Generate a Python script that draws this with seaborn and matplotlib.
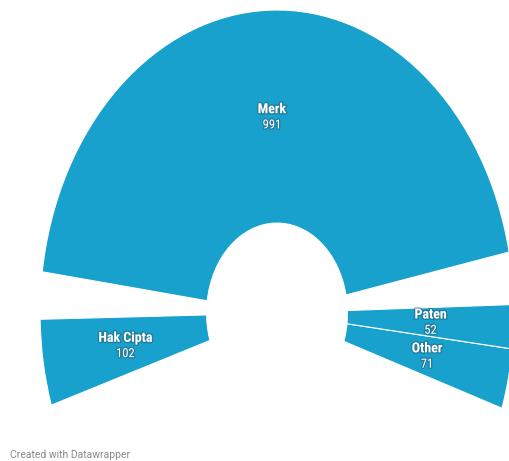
import numpy as np
import pandas as pd
import seaborn as sns
import matplotlib.pyplot as plt
from matplotlib.patches import Wedge
import matplotlib.patheffects as pe

# data
categories = ['Other', 'Paten', 'Merk', 'Hak Cipta']
values = [71, 52, 991, 102]

df = pd.DataFrame({'kategori': categories, 'jumlah': values})

sns.set_theme(style='white')
plt.rcParams['font.family'] = ['Roboto', 'DejaVu Sans']

blue = '#18a1cd'
deg_per_unit = 0.162    # layout scale of the arc
start = -18.3           # angle where "Other" begins
r_in, r_out = 0.297, 1.0
pad_before = {'Merk': 10.0, 'Hak Cipta': 9.0}

fig = plt.figure(figsize=(5.09, 4.61), dpi=100)
ax = fig.add_axes([0, 0, 1, 1])

shadow = [pe.withStroke(linewidth=2, foreground='#2b5566', alpha=0.45)]

theta = start
for _, row in df.iterrows():
    name, val = row['kategori'], row['jumlah']
    theta += pad_before.get(name, 0)
    t1 = theta
    t2 = theta + val * deg_per_unit
    mid = np.deg2rad((t1 + t2) / 2)
    ax.add_patch(Wedge((0, 0), r_out, t1, t2, width=r_out - r_in,
                       facecolor=blue, edgecolor='white', linewidth=0.8))
    lr = (r_in + r_out) / 2
    lx, ly = lr * np.cos(mid), lr * np.sin(mid)
    ax.annotate(name, (lx, ly), xytext=(0, 2.5), textcoords='offset points',
                ha='center', va='baseline', color='white', fontsize=10,
                family='Roboto Condensed', fontweight='bold', path_effects=shadow)
    ax.annotate(str(val), (lx, ly), xytext=(0, -8.5), textcoords='offset points',
                ha='center', va='baseline', color='white', fontsize=9,
                family='Roboto Condensed', path_effects=shadow)
    theta = t2

ax.set_xlim(-1.169, 0.979)
ax.set_ylim(-0.488, 1.033)
ax.set_aspect('auto')
ax.axis('off')

fig.text(10 / 509, 1 - 455 / 461, 'Created with Datawrapper', fontsize=7.5,
         color='#888888', ha='left', va='center')

fig.savefig('out.png', dpi=100)
